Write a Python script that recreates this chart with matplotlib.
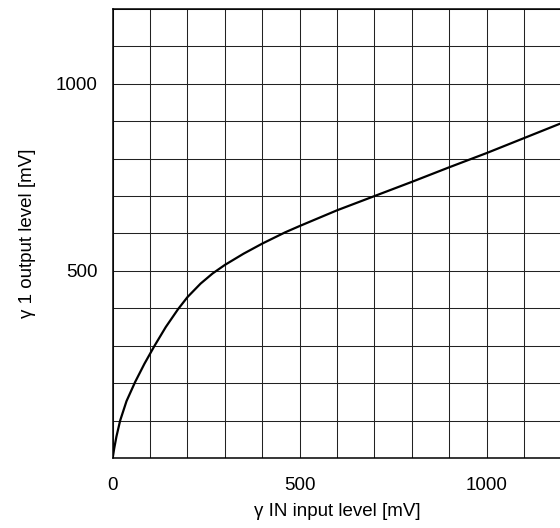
import matplotlib as mpl
import matplotlib.pyplot as plt
from matplotlib.ticker import MultipleLocator, FixedLocator

# (mV)
INPUT_MV = [0, 4, 10, 20, 37, 60, 85, 112, 142, 175, 200, 235, 267, 300, 350,
            400, 461, 500, 600, 700, 800, 900, 1000, 1100, 1200]
OUTPUT_MV = [0, 25, 57, 100, 152, 203, 252, 300, 350, 398, 430, 466, 493, 516,
             546, 573, 603, 620, 662, 700, 738, 777, 815, 855, 895]
X_TICKS = [0, 500, 1000]
Y_TICKS = [500, 1000]

RCPARAMS = {
    "font.family": ["Liberation Sans", "DejaVu Sans"],
    "font.size": 13.5,
}


def main():
    for key in RCPARAMS:
        mpl.rcParams[key] = RCPARAMS[key]
    fig = plt.figure(figsize=(5.6, 5.28), dpi=100)
    ax = fig.add_axes([0.2012, 0.1326, 0.8015, 0.8504])
    ax.plot(INPUT_MV, OUTPUT_MV, color="black", linewidth=1.6, zorder=3,
            solid_joinstyle="round")
    ax.set_xlim(0, 1200)
    ax.set_ylim(0, 1200)
    ax.xaxis.set_major_locator(FixedLocator(X_TICKS))
    ax.yaxis.set_major_locator(FixedLocator(Y_TICKS))
    ax.xaxis.set_minor_locator(MultipleLocator(100))
    ax.yaxis.set_minor_locator(MultipleLocator(100))
    ax.grid(which="both", color="#222222", linewidth=0.75, zorder=1)
    ax.tick_params(which="both", length=0)
    ax.tick_params(axis="x", pad=14)
    ax.tick_params(axis="y", pad=11)
    for sp in ax.spines.values():
        sp.set_linewidth(1.1)
    ax.set_xlabel("γ IN input level [mV]", labelpad=6)
    ax.set_ylabel("γ 1 output level [mV]", labelpad=14)
    fig.savefig("out.png", dpi=100)


if __name__ == "__main__":
    main()
